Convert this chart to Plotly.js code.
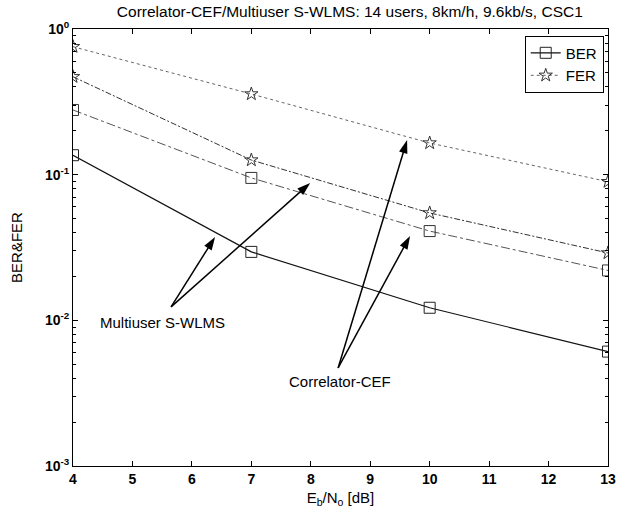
<!DOCTYPE html>
<html>
<head>
<meta charset="utf-8">
<script src="https://cdn.plot.ly/plotly-3.0.1.min.js"></script>
<style>html,body{margin:0;padding:0;background:#fff;}#chart{width:617px;height:517px;}</style>
</head>
<body>
<div id="chart"></div>
<script>
// Eb/No values [dB]
var ebno = [4, 7, 10, 13];
// Multiuser S-WLMS
var multiuserBER = [0.136, 0.0295, 0.0122, 0.0061];
var multiuserFER = [0.47, 0.126, 0.0546, 0.029];
// Correlator-CEF
var correlatorBER = [0.278, 0.095, 0.041, 0.022];
var correlatorFER = [0.756, 0.358, 0.165, 0.0895];
// axis ticks
var yTickVals = [0.001, 0.01, 0.1, 1];
var yTickText = ['10<sup>-3</sup>', '10<sup>-2</sup>', '10<sup>-1</sup>', '10<sup>0</sup>'];
var xTickVals = [4, 5, 6, 7, 8, 9, 10, 11, 12, 13];
// callout arrows: [tail, head] in data units
var arrowMultiX1 = [5.65, 6.39], arrowMultiY1 = [0.01236, 0.0374];
var arrowMultiX2 = [5.65, 7.99], arrowMultiY2 = [0.01236, 0.0877];
var arrowCorrX1 = [8.46, 9.62], arrowCorrY1 = [0.00471, 0.173];
var arrowCorrX2 = [8.46, 9.67], arrowCorrY2 = [0.00471, 0.038];

var FONT = 'Liberation Sans, Arial, sans-serif';

function arrowTrace(xs, ys) {
  return {x: xs, y: ys, mode: 'lines+markers', showlegend: false, hoverinfo: 'skip',
    line: {color: '#000', width: 1.5},
    marker: {symbol: 'arrow', angleref: 'previous', size: 14, color: '#000', line: {width: 0}}};
}

var traces = [
  {x: ebno, y: correlatorBER, name: 'BER', mode: 'lines+markers', showlegend: false,
   line: {color: '#555', width: 1, dash: 'dashdot'},
   marker: {symbol: 'square-open', size: 11, color: '#333', line: {width: 1}}},
  {x: ebno, y: multiuserFER, name: 'FER', mode: 'lines+markers', showlegend: false,
   line: {color: '#333', width: 1, dash: '6px,2px,2px,2px'},
   marker: {symbol: 'star-open', size: 10, color: '#333', line: {width: 1}}},
  {x: ebno, y: multiuserBER, name: 'BER', mode: 'lines+markers', showlegend: true,
   line: {color: '#111', width: 1.2},
   marker: {symbol: 'square-open', size: 11, color: '#222', line: {width: 1}}},
  {x: ebno, y: correlatorFER, name: 'FER', mode: 'lines+markers', showlegend: true,
   line: {color: '#666', width: 1, dash: 'dot'},
   marker: {symbol: 'star-open', size: 10, color: '#333', line: {width: 1}}},
  arrowTrace(arrowMultiX1, arrowMultiY1),
  arrowTrace(arrowMultiX2, arrowMultiY2),
  arrowTrace(arrowCorrX1, arrowCorrY1),
  arrowTrace(arrowCorrX2, arrowCorrY2)
];

var layout = {
  width: 617, height: 517,
  paper_bgcolor: '#fff', plot_bgcolor: '#fff',
  margin: {l: 73, r: 9, t: 29, b: 51},
  font: {family: FONT, color: '#000', size: 13},
  title: {text: 'Correlator-CEF/Multiuser S-WLMS: 14 users, 8km/h, 9.6kb/s, CSC1',
    font: {family: FONT, size: 15.5, color: '#000'}, x: 0.567, xanchor: 'center', y: 0.988, yanchor: 'top'},
  xaxis: {range: [4, 13], tickvals: xTickVals, ticks: 'inside', ticklen: 5, tickcolor: '#000',
    showline: true, linecolor: '#000', linewidth: 1, mirror: 'ticks', showgrid: false, zeroline: false,
    tickfont: {family: FONT, size: 14, weight: 'bold'},
    title: {text: 'E<sub>b</sub>/N<sub>o</sub> [dB]', font: {family: FONT, size: 15}, standoff: 6}},
  yaxis: {type: 'log', range: [-3, 0], tickvals: yTickVals, ticktext: yTickText, ticks: 'inside', ticklen: 5,
    tickcolor: '#000', showline: true, linecolor: '#000', linewidth: 1, mirror: 'ticks', showgrid: false,
    zeroline: false, tickfont: {family: FONT, size: 14, weight: 'bold'},
    minor: {ticks: 'inside', ticklen: 3, tickcolor: '#000', dtick: 'D1', showgrid: false},
    title: {text: 'BER&FER', font: {family: FONT, size: 15}, standoff: 18}},
  legend: {x: 0.992, xanchor: 'right', y: 0.985, yanchor: 'top', bgcolor: '#fff', bordercolor: '#000',
    borderwidth: 1, font: {family: FONT, size: 15}, tracegroupgap: 0},
  showlegend: true,
  annotations: [
    {x: 5.51, y: -2.018, xref: 'x', yref: 'y', text: 'Multiuser S-WLMS', showarrow: false,
     font: {family: FONT, size: 15, color: '#000'}},
    {x: 8.49, y: -2.423, xref: 'x', yref: 'y', text: 'Correlator-CEF', showarrow: false,
     font: {family: FONT, size: 15, color: '#000'}}
  ]
};

Plotly.newPlot('chart', traces, layout, {displayModeBar: false, staticPlot: true});
</script>
</body>
</html>
